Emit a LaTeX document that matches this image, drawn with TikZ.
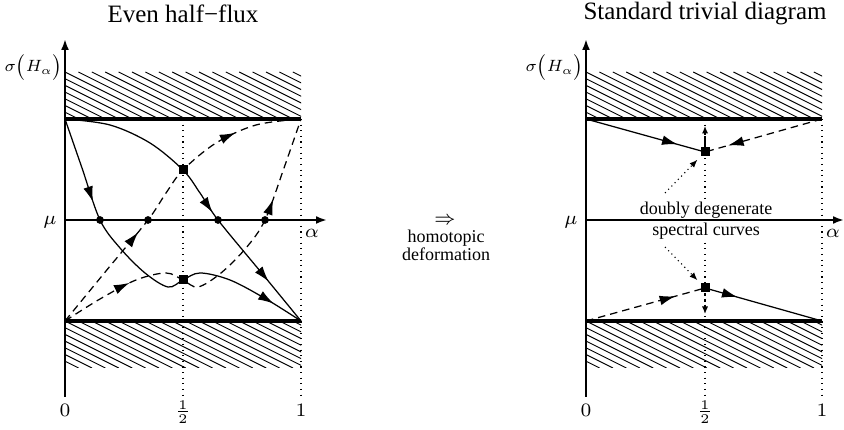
\RequirePackage{fix-cm}
\documentclass[tikz,border=0pt]{standalone}
\usepackage{fontspec}
\setmainfont{Liberation Serif}
\usetikzlibrary{arrows.meta,decorations.markings}
\tikzset{
  arrowat/.style={postaction={decorate,decoration={markings,mark=at position #1 with {\arrow{Latex[length=6.2pt,width=3.9pt]}}}}},
  ax/.style={line width=0.95pt,-{Latex[length=4.4pt,width=3.2pt]}},
  bar/.style={line width=1.3pt},
  curve/.style={line width=0.5pt},
  dcurve/.style={line width=0.5pt,dash pattern=on 3pt off 2pt},
  sdash/.style={line width=0.5pt,dash pattern=on 1.4pt off 1pt,-{Latex[length=3pt,width=2.5pt]}},
  guide/.style={line width=0.45pt,dash pattern=on 0.45pt off 1.8pt},
  pointer/.style={line width=0.45pt,dash pattern=on 0.45pt off 1.4pt,-{Latex[length=3.2pt,width=2.5pt]}},
  hatch/.style={line width=0.38pt},
  dot/.style={circle,fill,inner sep=0pt,minimum size=3.1pt},
  sq/.style={rectangle,fill,inner sep=0pt,minimum size=3.6pt},
  lab/.style={font=\fontsize{7.6}{9}\selectfont,inner sep=0pt},
  small/.style={font=\fontsize{7.2}{8.6}\selectfont,inner sep=0.6pt},
  ttl/.style={font=\fontsize{10}{12}\selectfont,inner sep=0pt},
}
\newcommand{\sigmalabel}{\scalebox{0.86}{$\sigma\bigl(H_\alpha\bigr)$}}
\begin{document}
\begin{tikzpicture}[x=0.4pt,y=-0.4pt]
\useasboundingbox (0,0) rectangle (844,430);

% ---------------- titles ----------------
\node[ttl] (title1) at (183,14) {Even half−flux};
\node[ttl] (title2) at (705,14) {Standard trivial diagram};

% ---------------- hatching ----------------
\foreach \ox in {0,521}{
  \begin{scope}[xshift=\ox*0.4pt]
    \clip (65,72) rectangle (301,119);
    \foreach \k in {-8,...,18} \draw[hatch] ({65+13.4*\k},72) -- ++(94,47);
  \end{scope}
  \begin{scope}[xshift=\ox*0.4pt]
    \clip (65,321) rectangle (301,368);
    \foreach \k in {-8,...,18} \draw[hatch] ({65+13.4*\k},321) -- ++(94,47);
  \end{scope}
}

% ---------------- left panel ----------------
\coordinate (LO) at (65,119);
\coordinate (LTR) at (301,119);
\coordinate (LBL) at (65,321);
\coordinate (LBR) at (301,321);
\coordinate (lhT) at (183,119);
\coordinate (lhB) at (183,397);
\coordinate (l1T) at (301,119);
\coordinate (l1B) at (301,397);
\coordinate (lyB) at (65,397);
\coordinate (lyT) at (65,39);
\coordinate (lx0) at (65,220);
\coordinate (lxE) at (327,220);

\draw[guide] (lhT) -- (lhB);
\draw[guide] (l1T) -- (l1B);
\draw[bar] (LO) -- (LTR);
\draw[bar] (LBL) -- (LBR);
\draw[ax] (lyB) -- (lyT);
\draw[ax] (lx0) -- (lxE);

\node[dot] (d1) at (100,220) {};
\node[dot] (d2) at (148,220) {};
\node[dot] (d3) at (218,220) {};
\node[dot] (d4) at (265,220) {};
\node[sq] (s1) at (183,170) {};
\node[sq] (s2) at (183,280) {};

% solid curve 1
\draw[curve,arrowat=35pt,arrowat=-13pt] plot[smooth,tension=0.55] coordinates
  {(LO) (82,168) (d1) (120,248) (145,273) (168,287) (s2) (200,273) (230,280) (266,299) (LBR)};
% solid curve 2
\draw[curve,arrowat=-56pt,arrowat=-20.4pt] plot[smooth,tension=0.55] coordinates
  {(LO) (110,125) (150,143) (s1) (200,193) (d3) (260,271) (LBR)};
% dashed curve A
\draw[dcurve,arrowat=46pt,arrowat=-27pt] plot[smooth,tension=0.55] coordinates
  {(LBL) (106,271) (d2) (166,193) (s1) (216,143) (256,125) (LTR)};
% dashed curve B
\draw[dcurve,arrowat=30pt,arrowat=-34pt] plot[smooth,tension=0.55] coordinates
  {(LBL) (100,299) (136,280) (166,273) (s2) (198,287) (221,273) (246,248) (d4) (284,168) (LTR)};

\node[lab,anchor=east] (lsig) at (63,67) {\sigmalabel};
\node[lab] (lmu) at (50,222) {$\mu$};
\node[lab] (lal) at (312,233) {$\alpha$};
\node[lab] (lt0) at (65,410) {$0$};
\node[lab] (lth) at (183,412) {$\frac{1}{2}$};
\node[lab] (lt1) at (301,410) {$1$};

% ---------------- middle ----------------
\node[lab] (impl) at (445,221) {$\Rightarrow$};
\node[small,align=center] (homo) at (446,245) {homotopic\\[-1.5pt]deformation};

% ---------------- right panel ----------------
\coordinate (RO) at (586,119);
\coordinate (RTR) at (822,119);
\coordinate (RBL) at (586,321);
\coordinate (RBR) at (822,321);
\coordinate (rhT) at (705,119);
\coordinate (rhB) at (705,397);
\coordinate (r1T) at (822,119);
\coordinate (r1B) at (822,397);
\coordinate (ryB) at (586,397);
\coordinate (ryT) at (586,39);
\coordinate (rx0) at (586,220);
\coordinate (rxE) at (844,220);

\draw[guide] (rhT) -- (rhB);
\draw[guide] (r1T) -- (r1B);
\draw[bar] (RO) -- (RTR);
\draw[bar] (RBL) -- (RBR);

\node[small,fill=white] (txt1) at (706,210) {doubly degenerate};
\node[small,fill=white] (txt2) at (706,231) {spectral curves};

\draw[ax] (ryB) -- (ryT);
\draw[ax] (rx0) -- (rxE);

\node[sq] (s3) at (705,152) {};
\node[sq] (s4) at (705,288) {};
\coordinate (u3) at (705,126);
\coordinate (u4) at (705,314);
\coordinate (p1) at (665,193);
\coordinate (p2) at (665,247);

\draw[curve,arrowat=38pt] (RO) -- (s3.center);
\draw[dcurve,arrowat=39pt] (RTR) -- (s3.center);
\draw[dcurve,arrowat=37pt] (RBL) -- (s4.center);
\draw[curve,arrowat=13.5pt] (s4.center) -- (RBR);
\draw[sdash] (s3) -- (u3);
\draw[sdash] (s4) -- (u4);
\draw[pointer,shorten >=1.5pt] (p1) -- (s3);
\draw[pointer,shorten >=1.5pt] (p2) -- (s4);

\node[lab,anchor=east] (rsig) at (584,67) {\sigmalabel};
\node[lab] (rmu) at (571,222) {$\mu$};
\node[lab] (ral) at (833,233) {$\alpha$};
\node[lab] (rt0) at (586,410) {$0$};
\node[lab] (rth) at (705,412) {$\frac{1}{2}$};
\node[lab] (rt1) at (822,410) {$1$};
\end{tikzpicture}
\end{document}
